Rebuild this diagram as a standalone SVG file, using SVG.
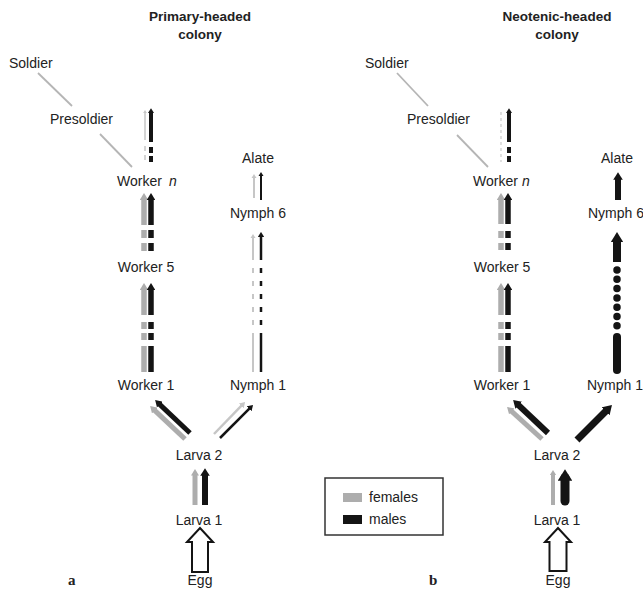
<svg xmlns="http://www.w3.org/2000/svg" width="643" height="593" viewBox="0 0 643 593">
<style>
text{font-family:"Liberation Sans",Arial,sans-serif;font-size:14px;fill:#222}
.t{font-weight:bold;font-size:13.5px;text-anchor:middle}
.c{text-anchor:middle}
.p{font-family:"Liberation Serif","Times New Roman",serif;font-weight:bold;font-size:15px}
.k{stroke:#141414;fill:none}
.g{stroke:#adadad;fill:none}
.lg{stroke:#c6c6c6;fill:none}
.s{stroke:#b5b5b5;stroke-width:1.8;fill:none}
.hollow{fill:#fff;stroke:#141414;stroke-width:2;stroke-linejoin:miter}
</style>
<defs>
<marker id="hk" viewBox="0 0 8 10" refX="2" refY="5" markerWidth="1.3" markerHeight="1.6" orient="auto" markerUnits="strokeWidth"><path d="M0,0L8,5L0,10z" fill="#141414"/></marker>
<marker id="hg" viewBox="0 0 8 10" refX="2" refY="5" markerWidth="1.3" markerHeight="1.6" orient="auto" markerUnits="strokeWidth"><path d="M0,0L8,5L0,10z" fill="#adadad"/></marker>
<marker id="tk" viewBox="0 0 8 10" refX="2" refY="5" markerWidth="2.2" markerHeight="2.75" orient="auto" markerUnits="strokeWidth"><path d="M0,0L8,5L0,10z" fill="#141414"/></marker>
<marker id="tg" viewBox="0 0 8 10" refX="2" refY="5" markerWidth="2.2" markerHeight="2.75" orient="auto" markerUnits="strokeWidth"><path d="M0,0L8,5L0,10z" fill="#c6c6c6"/></marker>
</defs>

<g id="connectors">
<!-- Panel a -->
<line class="s" x1="72" y1="106" x2="38" y2="73"/>
<line class="s" x1="132" y1="167" x2="100" y2="134"/>
<!-- Worker n up -->
<line class="lg" stroke-width="1.5" x1="145" y1="140" x2="145" y2="112.5" marker-end="url(#tg)"/>
<line class="lg" stroke-width="1.5" x1="145" y1="146" x2="145" y2="161" stroke-dasharray="5 4"/>
<line class="k" stroke-width="4" x1="151" y1="142" x2="151" y2="112" marker-end="url(#hk)"/>
<line class="k" stroke-width="4" x1="151" y1="147" x2="151" y2="162" stroke-dasharray="6 3"/>
<!-- Worker 5 to Worker n -->
<line class="g" stroke-width="5.5" x1="144" y1="225" x2="144" y2="198.4" marker-end="url(#hg)"/>
<line class="g" stroke-width="5.5" x1="144" y1="230" x2="144" y2="251" stroke-dasharray="8 5"/>
<line class="k" stroke-width="5.5" x1="151" y1="225" x2="151" y2="198.4" marker-end="url(#hk)"/>
<line class="k" stroke-width="5.5" x1="151" y1="230" x2="151" y2="251" stroke-dasharray="8 5"/>
<!-- Worker 1 to Worker 5 -->
<line class="g" stroke-width="5.5" x1="144" y1="315" x2="144" y2="288.4" marker-end="url(#hg)"/>
<line class="g" stroke-width="5.5" x1="144" y1="322" x2="144" y2="340" stroke-dasharray="7 4"/>
<line class="g" stroke-width="5.5" x1="144" y1="346" x2="144" y2="372"/>
<line class="k" stroke-width="5.5" x1="151" y1="315" x2="151" y2="288.4" marker-end="url(#hk)"/>
<line class="k" stroke-width="5.5" x1="151" y1="322" x2="151" y2="340" stroke-dasharray="7 4"/>
<line class="k" stroke-width="5.5" x1="151" y1="346" x2="151" y2="372"/>
<!-- Nymph 1 to Nymph 6 -->
<line class="lg" stroke-width="2" x1="253" y1="260" x2="253" y2="237.3" marker-end="url(#tg)"/>
<line class="lg" stroke-width="2" x1="253" y1="268" x2="253" y2="325" stroke-dasharray="5 8"/>
<line class="lg" stroke-width="2" x1="253" y1="333" x2="253" y2="372"/>
<line class="k" stroke-width="2.5" x1="261" y1="260" x2="261" y2="236" marker-end="url(#tk)"/>
<line class="k" stroke-width="2.5" x1="261" y1="268" x2="261" y2="325" stroke-dasharray="5 8"/>
<line class="k" stroke-width="2.5" x1="261" y1="333" x2="261" y2="372"/>
<!-- Nymph 6 to Alate -->
<line class="lg" stroke-width="2" x1="254" y1="198" x2="254" y2="177.3" marker-end="url(#tg)"/>
<line class="k" stroke-width="2" x1="261" y1="200" x2="261" y2="175.3" marker-end="url(#tk)"/>
<!-- Larva 2 to Worker 1 -->
<line class="g" stroke-width="5" x1="185" y1="439" x2="153.6" y2="409.4" marker-end="url(#hg)"/>
<line class="k" stroke-width="5" x1="190" y1="433" x2="158.6" y2="403.4" marker-end="url(#hk)"/>
<!-- Larva 2 to Nymph 1 -->
<line class="lg" stroke-width="2.5" x1="214" y1="434" x2="242.2" y2="404.9" marker-end="url(#tg)"/>
<line class="k" stroke-width="2.5" x1="220" y1="438" x2="250.1" y2="407.9" marker-end="url(#tk)"/>
<!-- Larva 1 to Larva 2 -->
<line class="g" stroke-width="5" x1="195" y1="505" x2="195" y2="473.9" marker-end="url(#hg)"/>
<line class="k" stroke-width="6" x1="205" y1="505" x2="205" y2="473.9" marker-end="url(#hk)"/>
<!-- Egg to Larva 1 -->
<polygon class="hollow" points="200,528 213,542 208,542 208,572 192,572 192,542 187,542"/>

<!-- Panel b -->
<line class="s" x1="428" y1="106" x2="397" y2="73"/>
<line class="s" x1="488" y1="167" x2="457" y2="135"/>
<!-- Worker n up -->
<line stroke="#cfcfcf" stroke-width="1.3" x1="501" y1="112" x2="501" y2="162" stroke-dasharray="3 3"/>
<line class="k" stroke-width="4" x1="509" y1="142" x2="509" y2="112" marker-end="url(#hk)"/>
<line class="k" stroke-width="4" x1="509" y1="147" x2="509" y2="162" stroke-dasharray="6 3"/>
<!-- Worker 5 to Worker n -->
<line class="g" stroke-width="5.5" x1="501" y1="224" x2="501" y2="198.4" marker-end="url(#hg)"/>
<line class="g" stroke-width="5.5" x1="501" y1="231" x2="501" y2="251" stroke-dasharray="7 5"/>
<line class="k" stroke-width="5.5" x1="508" y1="224" x2="508" y2="198.4" marker-end="url(#hk)"/>
<line class="k" stroke-width="5.5" x1="508" y1="231" x2="508" y2="251" stroke-dasharray="7 5"/>
<!-- Worker 1 to Worker 5 -->
<line class="g" stroke-width="5.5" x1="501" y1="315" x2="501" y2="288.4" marker-end="url(#hg)"/>
<line class="g" stroke-width="5.5" x1="501" y1="322" x2="501" y2="340" stroke-dasharray="7 4"/>
<line class="g" stroke-width="5.5" x1="501" y1="346" x2="501" y2="372"/>
<line class="k" stroke-width="5.5" x1="508" y1="315" x2="508" y2="288.4" marker-end="url(#hk)"/>
<line class="k" stroke-width="5.5" x1="508" y1="322" x2="508" y2="340" stroke-dasharray="7 4"/>
<line class="k" stroke-width="5.5" x1="508" y1="346" x2="508" y2="372"/>
<!-- Nymph 1 to Nymph 6 -->
<line class="k" stroke-width="8" x1="617" y1="262" x2="617" y2="239.8" marker-end="url(#hk)"/>
<line class="k" stroke-width="7.5" stroke-linecap="round" x1="617" y1="270" x2="617" y2="326" stroke-dasharray="0 9.3"/>
<line class="k" stroke-width="8" stroke-linecap="round" x1="617" y1="337" x2="617" y2="370"/>
<!-- Nymph 6 to Alate -->
<line class="k" stroke-width="6" x1="618" y1="200" x2="618" y2="177.9" marker-end="url(#hk)"/>
<!-- Larva 2 to Worker 1 -->
<line class="g" stroke-width="5" x1="542" y1="439" x2="510.6" y2="410.3" marker-end="url(#hg)"/>
<line class="k" stroke-width="6" x1="548" y1="433" x2="517.3" y2="404" marker-end="url(#hk)"/>
<!-- Larva 2 to Nymph 1 -->
<line class="k" stroke-width="7" x1="577" y1="440" x2="607.2" y2="409.8" marker-end="url(#hk)"/>
<!-- Larva 1 to Larva 2 -->
<line class="g" stroke-width="4" x1="553" y1="505" x2="553" y2="473.9" marker-end="url(#hg)"/>
<line class="k" stroke-width="9" stroke-linecap="round" x1="565" y1="501" x2="565" y2="477.8" marker-end="url(#hk)"/>
<!-- Egg to Larva 1 -->
<polygon class="hollow" points="558,528 571,542 566.5,542 566.5,571 549.5,571 549.5,542 545,542"/>
</g>

<g id="panel-a">
<g id="a-title"><text class="t" x="200" y="21">Primary-headed</text><text class="t" x="200" y="39">colony</text></g>
<g id="a-soldier"><text x="9" y="68">Soldier</text></g>
<g id="a-presoldier"><text x="50" y="124">Presoldier</text></g>
<g id="a-workern"><text x="117" y="186">Worker <tspan x="169" font-style="italic">n</tspan></text></g>
<g id="a-worker5"><text class="c" x="146" y="272">Worker 5</text></g>
<g id="a-worker1"><text class="c" x="146" y="390">Worker 1</text></g>
<g id="a-alate"><text class="c" x="258" y="163">Alate</text></g>
<g id="a-nymph6"><text class="c" x="258" y="218">Nymph 6</text></g>
<g id="a-nymph1"><text class="c" x="258" y="390">Nymph 1</text></g>
<g id="a-larva2"><text class="c" x="199" y="460">Larva 2</text></g>
<g id="a-larva1"><text class="c" x="199" y="525">Larva 1</text></g>
<g id="a-egg"><text class="c" x="200" y="585">Egg</text></g>
<g id="a-label"><text class="p" x="68" y="585">a</text></g>
</g>

<g id="panel-b">
<g id="b-title"><text class="t" x="557" y="21">Neotenic-headed</text><text class="t" x="557" y="39">colony</text></g>
<g id="b-soldier"><text x="365" y="68">Soldier</text></g>
<g id="b-presoldier"><text x="407" y="124">Presoldier</text></g>
<g id="b-workern"><text x="473" y="186">Worker <tspan x="522" font-style="italic">n</tspan></text></g>
<g id="b-worker5"><text class="c" x="502" y="272">Worker 5</text></g>
<g id="b-worker1"><text class="c" x="502" y="390">Worker 1</text></g>
<g id="b-alate"><text class="c" x="617" y="163">Alate</text></g>
<g id="b-nymph6"><text x="588" y="218">Nymph 6</text></g>
<g id="b-nymph1"><text x="587" y="390">Nymph 1</text></g>
<g id="b-larva2"><text class="c" x="557" y="460">Larva 2</text></g>
<g id="b-larva1"><text class="c" x="557" y="525">Larva 1</text></g>
<g id="b-egg"><text class="c" x="558" y="585">Egg</text></g>
<g id="b-label"><text class="p" x="429" y="585">b</text></g>
</g>

<g id="legend">
<rect x="325" y="478" width="118" height="57" fill="#fff" stroke="#333" stroke-width="1.5"/>
<rect x="343" y="493" width="19" height="9" fill="#adadad"/>
<text x="369" y="502">females</text>
<rect x="343" y="515" width="19" height="9" fill="#141414"/>
<text x="369" y="524">males</text>
</g>
</svg>
